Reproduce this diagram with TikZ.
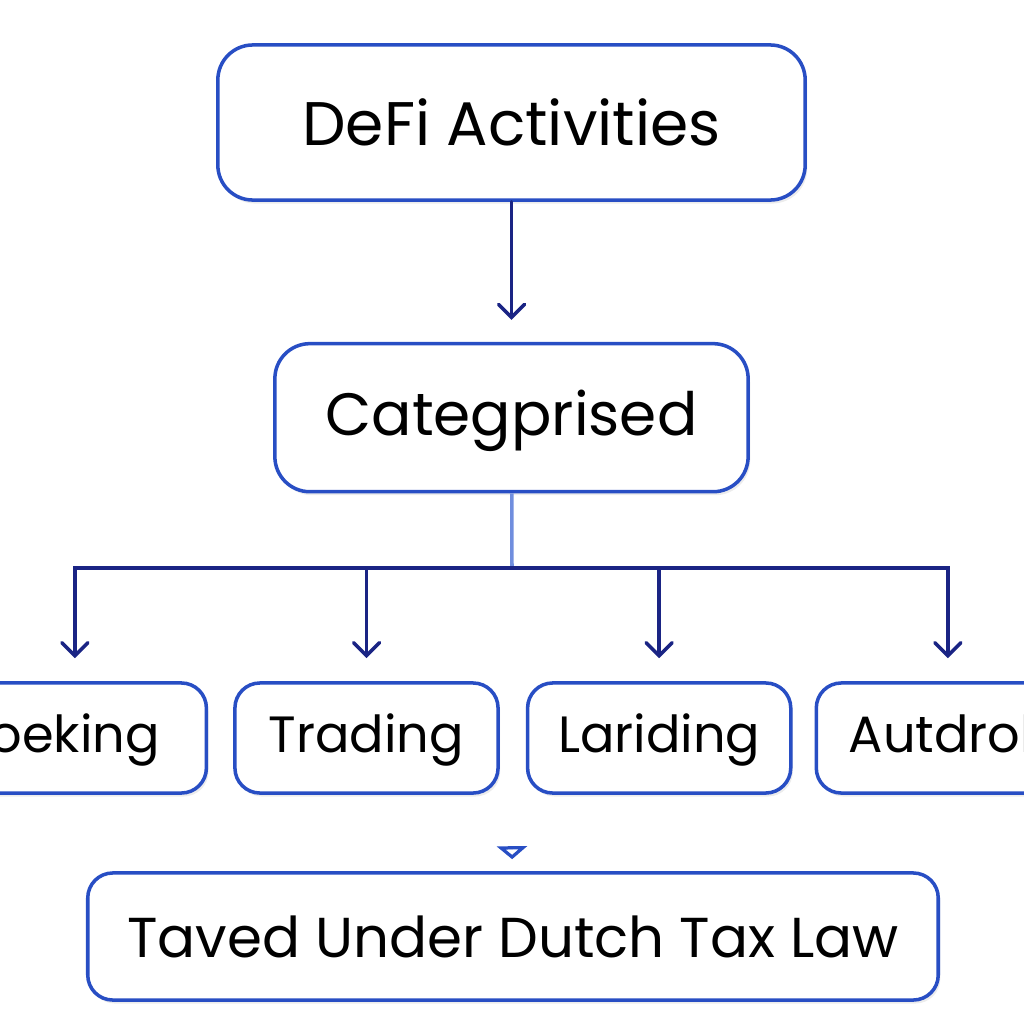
\documentclass[tikz,border=0pt]{standalone}
\usepackage{fontspec}
\setmainfont{Poppins}
\usetikzlibrary{positioning, arrows.meta, shadows}

\definecolor{boxblue}{RGB}{40,78,196}
\definecolor{navy}{RGB}{26,36,132}
\definecolor{paleblue}{RGB}{112,142,222}

\begin{document}
\begin{tikzpicture}[
  x=0.01cm, y=-0.01cm,
  % ---- Style definitions ----
  box/.style={
    draw=boxblue, rounded corners=3.5mm, line width=1pt, fill=white,
    align=center, text=black, inner xsep=2pt,
    drop shadow={shadow xshift=0.6pt, shadow yshift=-1pt, opacity=0.15}
  },
  bigbox/.style={box, minimum width=5.87cm, minimum height=1.55cm,
    font=\fontsize{17.5}{21}\selectfont},
  catbox/.style={box, minimum width=4.73cm, minimum height=1.48cm,
    text height=2.3ex, text depth=0.5ex,
    font=\fontsize{17}{21}\selectfont},
  leafbox/.style={box, rounded corners=2.5mm, minimum width=2.63cm,
    minimum height=1.10cm, text height=2.0ex, text depth=0.5ex,
    font=\fontsize{14.5}{18}\selectfont},
  taxbox/.style={box, rounded corners=2.5mm, minimum width=8.50cm,
    minimum height=1.27cm, font=\fontsize{16}{19}\selectfont},
  arr/.style={
    -{Straight Barb[length=1.3mm, width=2.6mm, line cap=round]},
    line width=1pt, color=navy, line cap=round
  },
  link/.style={line width=1pt, color=paleblue},
  stubarr/.style={
    -{Triangle[open, length=1.3mm, width=3mm]}, line width=1.6pt,
    color=boxblue
  },
]
\useasboundingbox (0,0) rectangle (1024,1024);

% ---- Nodes (top to bottom) ----
\node[bigbox] (defi) at (511.5,122.5) {DeFi Activities};

\node[catbox, below=1.40cm of defi] (cat) {Categprised};

\node[leafbox] (trading) at (366.5,738) {Trading};
\node[leafbox, left=0.25cm of trading] (staking) {oeking};
\node[leafbox, right=0.26cm of trading] (landing) {Lariding};
\node[leafbox, right=0.22cm of landing] (airdrop) {Autdrok};

\node[taxbox] (tax) at (513,936.5) {Taved Under Dutch Tax Law};

% ---- Connectors ----
\coordinate (split) at (512,568);
\coordinate (stub) at (512,849);

\draw[arr, shorten >=0.22cm] (defi) -- (cat);
\draw[link] (cat) -- (split);
\foreach \leaf in {staking, trading, landing, airdrop}
  \draw[arr, shorten >=0.23cm] (split) -| (\leaf.north);
\draw[stubarr, shorten >=0.12cm] (stub) -- (tax);

\end{tikzpicture}
\end{document}
